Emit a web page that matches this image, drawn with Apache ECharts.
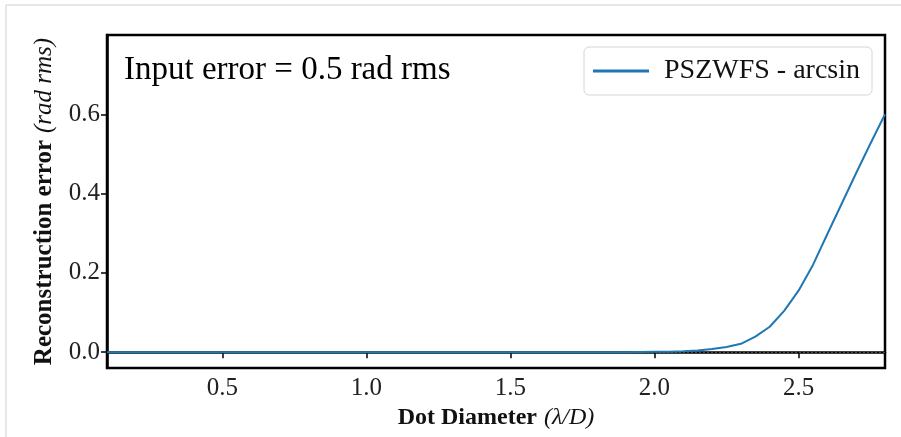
<!DOCTYPE html>
<html>
<head>
<meta charset="utf-8">
<script src="https://cdn.jsdelivr.net/npm/echarts@6/dist/echarts.min.js"></script>
<style>
  html, body { margin: 0; padding: 0; background: #fff; }
  #main { width: 901px; height: 437px; }
</style>
</head>
<body>
<div id="main"></div>
<script>
// dot diameter (lambda/D)
const diameters = [0.1, 0.5, 1.0, 1.5, 1.9, 2.0, 2.05, 2.1, 2.15, 2.2, 2.25, 2.3, 2.35,
	2.4, 2.45, 2.5, 2.55, 2.6, 2.65, 2.7, 2.75, 2.8];
// reconstruction error (rad rms)
const recError = [0, 0, 0, 0, 0, 0.001, 0.001, 0.002, 0.004, 0.008, 0.013, 0.021, 0.039,
	0.064, 0.104, 0.155, 0.22, 0.298, 0.375, 0.452, 0.527, 0.6];
const xTicks = [0.5, 1.0, 1.5, 2.0, 2.5];
const yTicks = [0.0, 0.2, 0.4, 0.6];
const seriesName = "PSZWFS - arcsin";
const annotation = "Input error = 0.5 rad rms";

const serif = "'Liberation Serif', 'DejaVu Serif', serif";
const chart = echarts.init(document.getElementById("main"));

const option = {
	backgroundColor: "#fff",
	animation: false,
	grid: {
		left: 107,
		right: 16,
		top: 35,
		bottom: 69,
		show: true,
		borderColor: "#000",
		borderWidth: 2.5,
	},
	legend: {
		right: 29,
		top: 47,
		data: [seriesName],
		itemWidth: 56,
		itemHeight: 3,
		itemGap: 10,
		padding: [10, 12, 10, 9],
		borderColor: "#d6d6d6",
		borderWidth: 1,
		borderRadius: 5,
		icon: "rect",
		textStyle: { fontFamily: serif, fontSize: 28, color: "#111", padding: [0, 0, 0, 10] },
	},
	graphic: [
		{ type: "line", shape: { x1: 6, y1: 5, x2: 901, y2: 5 }, style: { stroke: "#cfcfcf", lineWidth: 1 } },
		{ type: "line", shape: { x1: 6, y1: 5, x2: 6, y2: 437 }, style: { stroke: "#cfcfcf", lineWidth: 1 } },
		{
			type: "text",
			left: 124,
			top: 54,
			style: { text: annotation, font: "33px " + serif, fill: "#000" },
		},
	],
	xAxis: {
		type: "value",
		min: 0.1,
		max: 2.8,
		name: "{b|Dot Diameter}{s| }{i|(λ/D)}",
		nameLocation: "middle",
		nameGap: 34,
		nameTextStyle: {
			rich: {
				b: { fontFamily: serif, fontSize: 24, fontWeight: "bold", color: "#111" },
				s: { fontFamily: serif, fontSize: 24, width: 7 },
				i: { fontFamily: serif, fontSize: 24, fontStyle: "italic", color: "#111" },
			},
		},
		axisLine: { show: true, lineStyle: { color: "#000", width: 2.5 } },
		axisTick: { show: true, length: 6, lineStyle: { color: "#000", width: 1.5 }, customValues: xTicks },
		axisLabel: {
			fontFamily: serif,
			fontSize: 25,
			color: "#222",
			margin: 8,
			customValues: xTicks,
			formatter: (v) => v.toFixed(1),
		},
		splitLine: { show: false },
	},
	yAxis: {
		type: "value",
		min: -0.04,
		max: 0.8,
		name: "{b|Reconstruction error}{s| }{i|(rad rms)}",
		nameLocation: "middle",
		nameGap: 50,
		nameTextStyle: {
			rich: {
				b: { fontFamily: serif, fontSize: 25, fontWeight: "bold", color: "#111" },
				s: { fontFamily: serif, fontSize: 25, width: 7 },
				i: { fontFamily: serif, fontSize: 25, fontStyle: "italic", color: "#111" },
			},
		},
		axisLine: { show: true, lineStyle: { color: "#000", width: 2.5 } },
		axisTick: { show: true, length: 6, lineStyle: { color: "#000", width: 1.5 }, customValues: yTicks },
		axisLabel: {
			fontFamily: serif,
			fontSize: 25,
			color: "#222",
			margin: 7,
			customValues: yTicks,
			formatter: (v) => v.toFixed(1),
		},
		splitLine: { show: false },
	},
	series: [
		{
			name: seriesName,
			type: "line",
			data: diameters.map((d, i) => [d, recError[i]]),
			showSymbol: false,
			lineStyle: { color: "#1f77b4", width: 2 },
			itemStyle: { color: "#1f77b4" },
			z: 3,
			markLine: {
				silent: true,
				symbol: "none",
				label: { show: false },
				lineStyle: { color: "#666", type: [2, 2], width: 0.7 },
				data: [{ yAxis: 0 }],
				z: 2,
			},
		},
	],
};

chart.setOption(option);
</script>
</body>
</html>
